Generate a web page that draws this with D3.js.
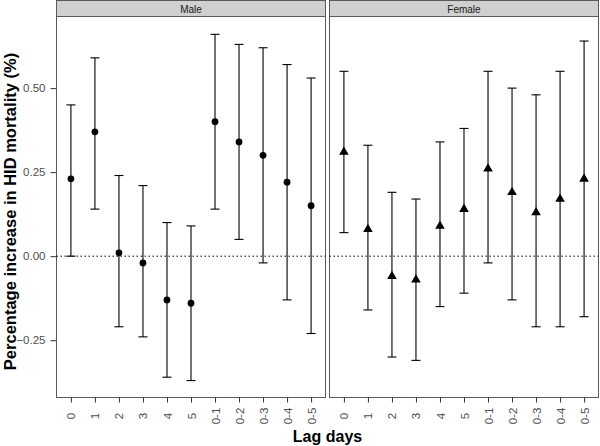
<!DOCTYPE html>
<html>
<head>
<meta charset="utf-8">
<script src="https://cdn.jsdelivr.net/npm/d3@7"></script>
<style>
  html, body { margin: 0; padding: 0; background: #fff; }
  svg { display: block; font-family: "Liberation Sans", Arial, sans-serif; }
</style>
</head>
<body>
<svg id="chart" width="600" height="446"></svg>
<script>
// ---- data ----
const lags = ["0", "1", "2", "3", "4", "5", "0-1", "0-2", "0-3", "0-4", "0-5"];
const panels = ["Male", "Female"];
const maleEst   = [0.23, 0.37, 0.01, -0.02, -0.13, -0.14, 0.40, 0.34, 0.30, 0.22, 0.15];
const maleLow   = [0.00, 0.14, -0.21, -0.24, -0.36, -0.37, 0.14, 0.05, -0.02, -0.13, -0.23];
const maleHigh  = [0.45, 0.59, 0.24, 0.21, 0.10, 0.09, 0.66, 0.63, 0.62, 0.57, 0.53];
const femaleEst  = [0.31, 0.08, -0.06, -0.07, 0.09, 0.14, 0.26, 0.19, 0.13, 0.17, 0.23];
const femaleLow  = [0.07, -0.16, -0.30, -0.31, -0.15, -0.11, -0.02, -0.13, -0.21, -0.21, -0.18];
const femaleHigh = [0.55, 0.33, 0.19, 0.17, 0.34, 0.38, 0.55, 0.50, 0.48, 0.55, 0.64];
const yTicks = [-0.25, 0.00, 0.25, 0.50];
const yTitle = "Percentage increase in HID mortality (%)";
const xTitle = "Lag days";

const series = [
  { name: panels[0], est: maleEst, low: maleLow, high: maleHigh, shape: d3.symbolCircle },
  { name: panels[1], est: femaleEst, low: femaleLow, high: femaleHigh, shape: d3.symbolTriangle }
];

// ---- layout ----
const svg = d3.select("#chart");
const plotTop = 16.5, plotBottom = 397.5;
const panelX = [[56.5, 325.5], [329.5, 598.5]];
const stripTop = 0.5;

const y = d3.scaleLinear().domain([-0.4204, 0.713]).range([plotBottom, plotTop]);

series.forEach((s, i) => {
  const [x0, x1] = panelX[i];
  const x = d3.scalePoint().domain(lags).range([x0, x1]).padding(0.6);
  const g = svg.append("g");

  // strip
  g.append("rect").attr("x", x0).attr("y", stripTop).attr("width", x1 - x0).attr("height", plotTop - stripTop)
    .attr("fill", "#d0d0d0").attr("stroke", "#5a5a5a").attr("stroke-width", 1);
  g.append("text").attr("x", (x0 + x1) / 2).attr("y", 12.6).attr("text-anchor", "middle")
    .attr("font-size", 10).attr("fill", "#1a1a1a").text(s.name);

  // panel background/border
  g.append("rect").attr("x", x0).attr("y", plotTop).attr("width", x1 - x0).attr("height", plotBottom - plotTop)
    .attr("fill", "#fff").attr("stroke", "#5a5a5a").attr("stroke-width", 1);

  // zero reference line
  g.append("line").attr("x1", x0).attr("x2", x1).attr("y1", y(0)).attr("y2", y(0))
    .attr("stroke", "#000").attr("stroke-width", 1).attr("stroke-dasharray", "1.5,2.5");

  // x axis
  const xa = g.append("g").attr("transform", `translate(0,${plotBottom})`)
    .call(d3.axisBottom(x).tickSize(5).tickSizeOuter(0).tickPadding(0));
  xa.select(".domain").remove();
  xa.selectAll(".tick line").attr("stroke", "#333").attr("stroke-width", 1);
  xa.selectAll(".tick text")
    .attr("transform", "rotate(-90)")
    .attr("x", -18.5).attr("y", 0).attr("dy", "0.35em")
    .attr("text-anchor", "middle")
    .attr("font-size", 11.5).attr("fill", "#4d4d4d");

  // error bars
  const capW = 4.5;
  lags.forEach((lag, j) => {
    const cx = x(lag);
    g.append("line").attr("x1", cx).attr("x2", cx).attr("y1", y(s.low[j])).attr("y2", y(s.high[j]))
      .attr("stroke", "#000").attr("stroke-width", 1.1);
    [s.low[j], s.high[j]].forEach(v => {
      g.append("line").attr("x1", cx - capW).attr("x2", cx + capW).attr("y1", y(v)).attr("y2", y(v))
        .attr("stroke", "#000").attr("stroke-width", 1.1);
    });
  });

  // points
  const sym = d3.symbol().type(s.shape).size(s.shape === d3.symbolCircle ? 36 : 40);
  g.selectAll("path.pt").data(lags).join("path").attr("class", "pt")
    .attr("transform", (d, j) => `translate(${x(d)},${y(s.est[j])})`)
    .attr("d", sym).attr("fill", "#000");

  // y axis on first panel
  if (i === 0) {
    const ya = g.append("g").attr("transform", `translate(${x0},0)`)
      .call(d3.axisLeft(y).tickValues(yTicks).tickFormat(d3.format(".2f")).tickSize(6).tickPadding(5));
    ya.select(".domain").remove();
    ya.selectAll(".tick line").attr("stroke", "#333");
    ya.selectAll(".tick text").attr("font-size", 11.5).attr("fill", "#4d4d4d");
  }
});

// axis titles
svg.append("text").attr("transform", `translate(16,211.5) rotate(-90)`)
  .attr("text-anchor", "middle").attr("font-size", 16.5).attr("font-weight", "bold").attr("fill", "#000")
  .text(yTitle);
svg.append("text").attr("x", (panelX[0][0] + panelX[1][1]) / 2).attr("y", 441.5)
  .attr("text-anchor", "middle").attr("font-size", 16).attr("font-weight", "bold").attr("fill", "#000")
  .text(xTitle);
</script>
</body>
</html>
